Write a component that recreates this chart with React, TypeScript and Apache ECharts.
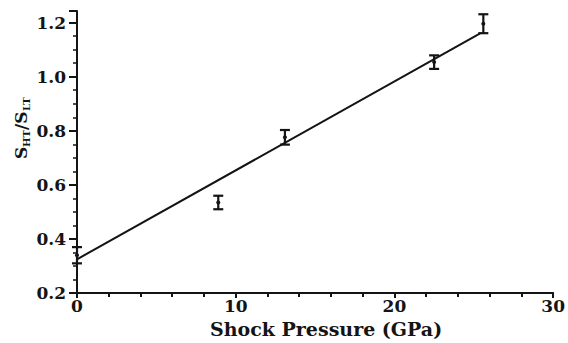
import React, { useEffect, useRef } from "react";
import * as echarts from "echarts";

const pressure = [0, 8.9, 13.1, 22.5, 25.6];
const ratio = [0.34, 0.535, 0.776, 1.054, 1.196];
const errHalf = [0.03, 0.025, 0.027, 0.025, 0.035];
const fitX = [0, 25.4];
const fitY = [0.325, 1.16];
const xTicks = [0, 10, 20, 30];
const yTicks = [0.2, 0.4, 0.6, 0.8, 1.0, 1.2];

const INK = "#141414";
const FONT = "DejaVu Serif";

export default function App() {
  const ref = useRef<HTMLDivElement>(null);
  useEffect(() => {
    if (!ref.current) return;
    const chart = echarts.init(ref.current, null, { renderer: "svg" });
    const errData = pressure.map((x, i) => [x, ratio[i], ratio[i] - errHalf[i], ratio[i] + errHalf[i]]);
    const fitData = fitX.map((x, i) => [x, fitY[i]]);
    const bigStyle = { fontFamily: FONT, fontWeight: "bold", fontSize: 17, fill: INK, verticalAlign: "middle" };
    const smallStyle = { fontFamily: FONT, fontWeight: "bold", fontSize: 10, fill: INK, verticalAlign: "middle" };
    chart.setOption({
      animation: false,
      backgroundColor: "#ffffff",
      grid: { left: 77, right: 10, top: 11, bottom: 44, containLabel: false },
      xAxis: {
        type: "value",
        min: xTicks[0],
        max: xTicks[xTicks.length - 1],
        interval: 10,
        axisLine: { show: true, lineStyle: { color: INK, width: 2 } },
        axisTick: { show: true, length: 5, lineStyle: { color: INK, width: 2 } },
        minorTick: { show: true, splitNumber: 5, length: 4, lineStyle: { color: INK, width: 2 } },
        splitLine: { show: false },
        axisLabel: { color: INK, fontFamily: FONT, fontWeight: "bold", fontSize: 17, margin: 4 },
        name: "Shock Pressure (GPa)",
        nameLocation: "middle",
        nameGap: 21,
        nameTextStyle: {
          color: INK,
          fontFamily: FONT,
          fontWeight: "bold",
          fontSize: 19,
          padding: [0, 0, 0, 22],
        },
      },
      yAxis: {
        type: "value",
        min: yTicks[0],
        max: 1.243,
        interval: 0.2,
        axisLine: { show: true, lineStyle: { color: INK, width: 2 } },
        axisTick: { show: true, length: 8, lineStyle: { color: INK, width: 2 } },
        minorTick: { show: true, splitNumber: 4, length: 4, lineStyle: { color: INK, width: 1.5 } },
        splitLine: { show: false },
        axisLabel: {
          color: INK,
          fontFamily: FONT,
          fontWeight: "bold",
          fontSize: 17,
          margin: 11,
          showMaxLabel: false,
          formatter: (v: number) => (yTicks.some((t) => Math.abs(t - v) < 1e-6) ? v.toFixed(1) : ""),
        },
      },
      graphic: [
        {
          type: "group",
          x: 21,
          y: 128,
          rotation: Math.PI / 2,
          children: [
            { type: "text", x: -31, y: 0, style: { ...bigStyle, text: "S" } },
            { type: "text", x: -19, y: 5, style: { ...smallStyle, text: "HT" } },
            { type: "text", x: -2, y: 0, style: { ...bigStyle, text: "/S" } },
            { type: "text", x: 17, y: 5, style: { ...smallStyle, text: "LT" } },
          ],
        },
      ],
      series: [
        {
          type: "line",
          data: fitData,
          symbol: "none",
          lineStyle: { color: INK, width: 2 },
          z: 2,
        },
        {
          type: "custom",
          clip: false,
          data: errData,
          renderItem: (params: any, api: any) => {
            const x = api.value(0);
            const c = api.coord([x, api.value(1)]);
            const lo = api.coord([x, api.value(2)]);
            const hi = api.coord([x, api.value(3)]);
            const hw = 5;
            const st = { stroke: INK, lineWidth: 2.2 };
            return {
              type: "group",
              children: [
                { type: "line", shape: { x1: lo[0], y1: lo[1], x2: hi[0], y2: hi[1] }, style: st },
                { type: "line", shape: { x1: lo[0] - hw, y1: lo[1], x2: lo[0] + hw, y2: lo[1] }, style: st },
                { type: "line", shape: { x1: hi[0] - hw, y1: hi[1], x2: hi[0] + hw, y2: hi[1] }, style: st },
                { type: "circle", shape: { cx: c[0], cy: c[1], r: 2 }, style: { fill: INK } },
              ],
            };
          },
          z: 3,
        },
      ],
    });
    return () => chart.dispose();
  }, []);
  return <div ref={ref} style={{ width: 568, height: 343, position: "absolute", left: 0, top: 0 }} />;
}
